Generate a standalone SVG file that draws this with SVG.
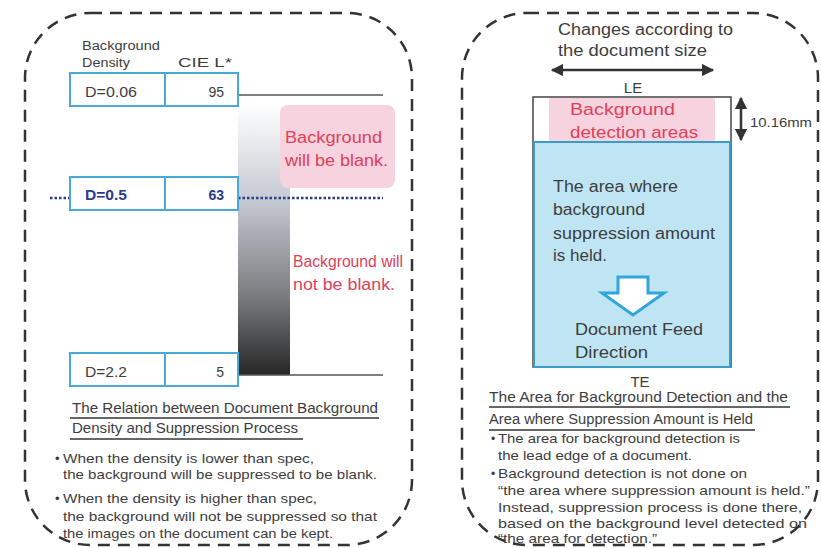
<svg xmlns="http://www.w3.org/2000/svg" width="821" height="548" viewBox="0 0 821 548">
<defs>
<linearGradient id="bar" x1="0" y1="0" x2="0" y2="1">
<stop offset="0" stop-color="#ffffff"/>
<stop offset="0.35" stop-color="#c6cad2"/>
<stop offset="0.7" stop-color="#7c7e82"/>
<stop offset="1" stop-color="#262626"/>
</linearGradient>
<marker id="ah" viewBox="0 0 10 10" refX="9" refY="5" markerWidth="5" markerHeight="5" orient="auto-start-reverse">
<path d="M0,0 L10,5 L0,10 z" fill="#333"/>
</marker>
<style>
.panel{fill:none;stroke:#333;stroke-width:2.5;stroke-dasharray:12 8}
.t{font-family:"Liberation Sans",Arial,sans-serif;fill:#3d3d3d}
.cell{fill:#fff;stroke:#4aa8d8;stroke-width:2}
.red{font-family:"Liberation Sans",Arial,sans-serif;fill:#e0405a}
.ul{stroke:#333;stroke-width:1.5}
</style>
</defs>
<rect width="821" height="548" fill="#fff"/>

<g id="left-panel">
<rect class="panel" x="25" y="13" width="387" height="532" rx="65"/>
</g>
<g id="right-panel">
<rect class="panel" x="462" y="13" width="356" height="532" rx="65"/>
</g>

<g id="gradient-bar">
<rect x="238" y="104" width="52" height="271" fill="url(#bar)"/>
</g>

<g id="connectors">
<line x1="238" y1="95" x2="383" y2="95" stroke="#555" stroke-width="1.5"/>
<line x1="238" y1="375" x2="383" y2="375" stroke="#555" stroke-width="1.5"/>
<line x1="50" y1="198" x2="70" y2="198" stroke="#2b3a8c" stroke-width="2.5" stroke-dasharray="2.5 2"/>
<line x1="238" y1="198" x2="383" y2="198" stroke="#2b3a8c" stroke-width="2.5" stroke-dasharray="2.5 2"/>
<line x1="552" y1="70" x2="713" y2="70" stroke="#333" stroke-width="2.5" marker-start="url(#ah)" marker-end="url(#ah)"/>
<line x1="741" y1="98" x2="741" y2="140" stroke="#333" stroke-width="2.5" marker-start="url(#ah)" marker-end="url(#ah)"/>
</g>

<g id="pink-blank">
<rect x="280" y="105" width="115" height="83" rx="8" fill="#f6d3de"/>
<text class="red" x="285" y="143" font-size="16" textLength="97" lengthAdjust="spacingAndGlyphs">Background</text>
<text class="red" x="285" y="166" font-size="16" textLength="103" lengthAdjust="spacingAndGlyphs">will be blank.</text>
</g>

<g id="not-blank">
<text class="red" x="293" y="267" font-size="16" textLength="110" lengthAdjust="spacingAndGlyphs">Background will</text>
<text class="red" x="293" y="290" font-size="16" textLength="102" lengthAdjust="spacingAndGlyphs">not be blank.</text>
</g>

<g id="headers">
<text class="t" x="82" y="50" font-size="12.5" textLength="78" lengthAdjust="spacingAndGlyphs">Background</text>
<text class="t" x="82" y="67" font-size="12.5" textLength="48" lengthAdjust="spacingAndGlyphs">Density</text>
<text class="t" x="178" y="67" font-size="13" textLength="54" lengthAdjust="spacingAndGlyphs">CIE L*</text>
</g>

<g id="row-006">
<rect class="cell" x="70" y="73" width="168" height="33"/>
<line x1="165" y1="73" x2="165" y2="106" stroke="#4aa8d8" stroke-width="2"/>
<text class="t" x="85" y="97" font-size="14" textLength="52" lengthAdjust="spacingAndGlyphs">D=0.06</text>
<text class="t" x="224" y="97" font-size="14" text-anchor="end">95</text>
</g>

<g id="row-05">
<rect class="cell" x="70" y="177" width="168" height="33"/>
<line x1="165" y1="177" x2="165" y2="210" stroke="#4aa8d8" stroke-width="2"/>
<text x="85" y="200" font-size="14" font-weight="bold" font-family="Liberation Sans, Arial, sans-serif" fill="#2b3a8c" textLength="42" lengthAdjust="spacingAndGlyphs">D=0.5</text>
<text x="224" y="200" font-size="14" font-weight="bold" font-family="Liberation Sans, Arial, sans-serif" fill="#2b3a8c" text-anchor="end">63</text>
</g>

<g id="row-22">
<rect class="cell" x="70" y="353" width="168" height="33"/>
<line x1="165" y1="353" x2="165" y2="386" stroke="#4aa8d8" stroke-width="2"/>
<text class="t" x="85" y="377" font-size="14" textLength="42" lengthAdjust="spacingAndGlyphs">D=2.2</text>
<text class="t" x="224" y="377" font-size="14" text-anchor="end">5</text>
</g>

<g id="left-caption">
<text class="t" x="72" y="413" font-size="14.5" textLength="306" lengthAdjust="spacingAndGlyphs">The Relation between Document Background</text>
<line class="ul" x1="70" y1="418" x2="379" y2="418"/>
<text class="t" x="72" y="433" font-size="14.5" textLength="226" lengthAdjust="spacingAndGlyphs">Density and Suppression Process</text>
<line class="ul" x1="70" y1="439" x2="303" y2="439"/>
</g>

<g id="left-notes">
<text class="t" x="55" y="463" font-size="13">•</text>
<text class="t" x="63" y="463" font-size="13.5" textLength="251" lengthAdjust="spacingAndGlyphs">When the density is lower than spec,</text>
<text class="t" x="63" y="479" font-size="13.5" textLength="314" lengthAdjust="spacingAndGlyphs">the background will be suppressed to be blank.</text>
<text class="t" x="55" y="503" font-size="13">•</text>
<text class="t" x="63" y="503" font-size="13.5" textLength="254" lengthAdjust="spacingAndGlyphs">When the density is higher than spec,</text>
<text class="t" x="63" y="521" font-size="13.5" textLength="314" lengthAdjust="spacingAndGlyphs">the background will not be suppressed so that</text>
<text class="t" x="63" y="538" font-size="13.5" textLength="270" lengthAdjust="spacingAndGlyphs">the images on the document can be kept.</text>
</g>

<g id="size-label">
<text class="t" x="558" y="35" font-size="16" textLength="175" lengthAdjust="spacingAndGlyphs">Changes according to</text>
<text class="t" x="558" y="56" font-size="16" textLength="149" lengthAdjust="spacingAndGlyphs">the document size</text>
<text class="t" x="633" y="93" font-size="15" text-anchor="middle">LE</text>
<text class="t" x="640" y="387" font-size="15" text-anchor="middle">TE</text>
<text class="t" x="750" y="127" font-size="13" textLength="62" lengthAdjust="spacingAndGlyphs">10.16mm</text>
</g>

<g id="document">
<rect x="533" y="97" width="198" height="270" fill="#fff" stroke="#444" stroke-width="1.5"/>
</g>

<g id="detection-area">
<rect x="549" y="98" width="166" height="44" fill="#f6d3de"/>
<text class="red" x="570" y="115" font-size="16" textLength="105" lengthAdjust="spacingAndGlyphs">Background</text>
<text class="red" x="570" y="138" font-size="16" textLength="128" lengthAdjust="spacingAndGlyphs">detection areas</text>
</g>

<g id="held-area">
<rect x="534" y="142" width="196" height="225" fill="#bfe5f3" stroke="#3a9cc8" stroke-width="2"/>
<text class="t" x="553" y="192" font-size="16" textLength="125" lengthAdjust="spacingAndGlyphs">The area where</text>
<text class="t" x="553" y="215" font-size="16" textLength="92" lengthAdjust="spacingAndGlyphs">background</text>
<text class="t" x="553" y="239" font-size="16" textLength="162" lengthAdjust="spacingAndGlyphs">suppression amount</text>
<text class="t" x="553" y="261" font-size="16" textLength="54" lengthAdjust="spacingAndGlyphs">is held.</text>
<path d="M618,277 L648,277 L648,293 L664,293 L633,315 L602,293 L618,293 Z" fill="#fff" stroke="#2fa6dc" stroke-width="3" stroke-linejoin="miter"/>
<text class="t" x="575" y="335" font-size="16" textLength="128" lengthAdjust="spacingAndGlyphs">Document Feed</text>
<text class="t" x="575" y="358" font-size="16" textLength="73" lengthAdjust="spacingAndGlyphs">Direction</text>
</g>

<g id="right-caption">
<text class="t" x="489" y="402" font-size="14" textLength="299" lengthAdjust="spacingAndGlyphs">The Area for Background Detection and the</text>
<line class="ul" x1="489" y1="407" x2="790" y2="407"/>
<text class="t" x="489" y="424" font-size="14" textLength="264" lengthAdjust="spacingAndGlyphs">Area where Suppression Amount is Held</text>
<line class="ul" x1="489" y1="430" x2="755" y2="430"/>
</g>

<g id="right-notes">
<text class="t" x="491" y="443" font-size="12">•</text>
<text class="t" x="498" y="443" font-size="13" textLength="242" lengthAdjust="spacingAndGlyphs">The area for background detection is</text>
<text class="t" x="498" y="460" font-size="13" textLength="194" lengthAdjust="spacingAndGlyphs">the lead edge of a document.</text>
<text class="t" x="491" y="478" font-size="12">•</text>
<text class="t" x="498" y="478" font-size="13" textLength="249" lengthAdjust="spacingAndGlyphs">Background detection is not done on</text>
<text class="t" x="498" y="495" font-size="13" textLength="312" lengthAdjust="spacingAndGlyphs">“the area where suppression amount is held.”</text>
<text class="t" x="498" y="512" font-size="13" textLength="304" lengthAdjust="spacingAndGlyphs">Instead, suppression process is done there,</text>
<text class="t" x="498" y="528" font-size="13" textLength="309" lengthAdjust="spacingAndGlyphs">based on the background level detected on</text>
<text class="t" x="498" y="543" font-size="13" textLength="159" lengthAdjust="spacingAndGlyphs">“the area for detection.”</text>
</g>
</svg>
